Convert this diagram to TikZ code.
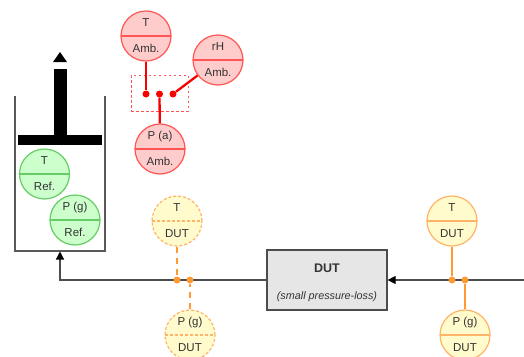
\documentclass[tikz,border=0pt]{standalone}
\usepackage{fontspec}
\setmainfont{Liberation Sans}
\usepackage{xcolor}
\usetikzlibrary{arrows.meta,positioning,calc}
\definecolor{ambfill}{HTML}{FFCCCC}
\definecolor{ambline}{HTML}{FF5555}
\definecolor{ambwire}{HTML}{F80000}
\definecolor{reffill}{HTML}{CCFFCC}
\definecolor{refline}{HTML}{66CC66}
\definecolor{dutfill}{HTML}{FFFBCC}
\definecolor{dutline}{HTML}{FFB366}
\definecolor{dutwire}{HTML}{FF9933}
\definecolor{boxfill}{HTML}{E6E6E6}
\definecolor{inkgrey}{HTML}{333333}
\newcommand{\twolines}[2]{\rule{0pt}{9.5pt}\vphantom{(}#1\\\vphantom{(}#2}

\begin{document}
\begin{tikzpicture}[
  x=1pt, y=-1pt,
  sensor/.style={circle, draw, line width=1.2pt, minimum size=50pt, inner sep=0pt, align=center, text=inkgrey,
    font=\fontsize{11.5}{26}\selectfont,
    path picture={\draw[line width=1.2pt, sensorrule] (path picture bounding box.west) -- (path picture bounding box.east);}},
  sensorrule/.style={},
  ambsensor/.style={sensor, fill=ambfill, draw=ambline, sensorrule/.style={draw=ambline}},
  refsensor/.style={sensor, fill=reffill, draw=refline, sensorrule/.style={draw=refline}},
  dutsensor/.style={sensor, fill=dutfill, draw=dutline, sensorrule/.style={draw=dutline}},
  dutfaint/.style={dutsensor, dash pattern=on 3pt off 2pt, sensorrule/.style={draw=dutline, dash pattern=on 3pt off 2pt}},
  dot/.style={circle, inner sep=0pt, minimum size=7pt},
  ambdot/.style={dot, fill=ambwire},
  dutdot/.style={dot, fill=dutwire},
  ambwire/.style={draw=ambwire, line width=2.3pt},
  dutwire/.style={draw=dutwire, line width=2.3pt},
  faintwire/.style={dutwire, dash pattern=on 6pt off 5pt},
  flow/.style={-{Triangle[length=8pt,width=8pt,color=black]}, draw=black!70, line width=1.2pt},
  wall/.style={draw=black!65, line width=1.2pt},
]
  \useasboundingbox (0,0) rectangle (524,356);

  % reference cylinder with piston
  \draw[wall] (15,96) -- (15,251) -- (105,251) -- (105,96);
  \fill[black] (18,135) rectangle (102,145);
  \fill[black] (54,69) rectangle (67,135);
  \fill[black] (60,52) -- (67,62) -- (53,62) -- cycle;
  \coordinate (cylinder) at (60,251.5);
  \node[refsensor] (tref) at (44.5,174) {\twolines{T}{Ref.}};
  \node[refsensor] (pref) at (75,220) {\twolines{P (g)}{Ref.}};

  % flow line
  \coordinate (inlet) at (524,280);
  \node[rectangle, draw=black!70, fill=boxfill, line width=1.2pt, minimum width=120pt, minimum height=60pt, align=center, text=inkgrey, font=\fontsize{10.8}{27}\selectfont] (dut) at (327,280)
    {\rule{0pt}{15pt}{\fontsize{12.5}{27}\selectfont\bfseries DUT}\\\textit{(small pressure-loss)}};
  \coordinate (bend) at (60,280);
  \draw[flow] (inlet) -- (dut);
  \draw[flow] (dut) -- (bend) -- (cylinder);

  % ambient sensors
  \node[draw=ambline, dash pattern=on 2.5pt off 2.5pt, line width=1pt, minimum width=57pt, minimum height=36pt, inner sep=0pt] (ambgroup) at (159.5,93) {};
  \node[ambdot] (dota) at (146,94) {};
  \node[ambdot] (dotb) at (159.5,94) {};
  \node[ambdot] (dotc) at (173,94) {};
  \node[ambsensor] (tamb) at (146,36) {\twolines{T}{Amb.}};
  \node[ambsensor] (rhamb) at (218,60) {\twolines{rH}{Amb.}};
  \node[ambsensor] (pamb) at (160,149) {\twolines{P (a)}{Amb.}};
  \draw[ambwire] (tamb) -- (dota);
  \draw[ambwire] (pamb) -- (dotb);
  \draw[ambwire] (rhamb) -- (dotc);

  % downstream sensors
  \node[dutdot] (dotd) at (177,280) {};
  \node[dutdot] (dote) at (190,280) {};
  \node[dutfaint] (tout) at (177,221) {\twolines{T}{DUT}};
  \node[dutfaint] (pout) at (190,335) {\twolines{P (g)}{DUT}};
  \draw[faintwire] (tout) -- (dotd);
  \draw[faintwire] (pout) -- (dote);

  % upstream sensors
  \node[dutdot] (dotf) at (452,280) {};
  \node[dutdot] (dotg) at (465,280) {};
  \node[dutsensor] (tin) at (452,221) {\twolines{T}{DUT}};
  \node[dutsensor] (pin) at (465,335) {\twolines{P (g)}{DUT}};
  \draw[dutwire] (tin) -- (dotf);
  \draw[dutwire] (pin) -- (dotg);
\end{tikzpicture}
\end{document}
